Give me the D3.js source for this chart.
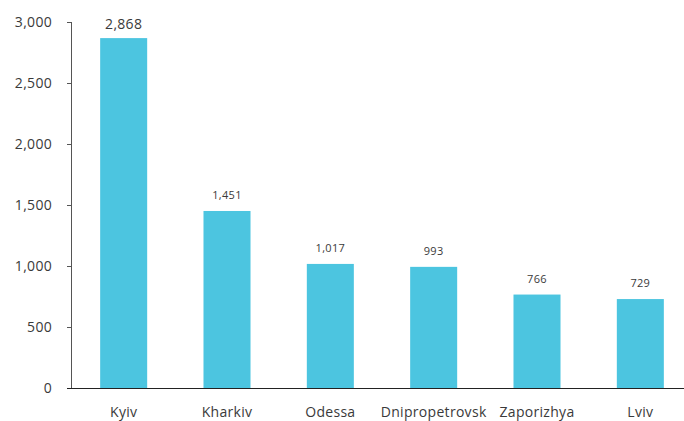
<!DOCTYPE html>
<html>
<head>
<meta charset="utf-8">
<script src="https://cdn.jsdelivr.net/npm/d3@7"></script>
<style>
  html, body { margin: 0; padding: 0; background: #fff; }
  svg { display: block; }
  svg text { font-family: "Open Sans", sans-serif; letter-spacing: 0.3px; }
</style>
</head>
<body>
<svg id="chart" width="684" height="421"></svg>
<script>
// Regions and their counts
const regions = ["Kyiv", "Kharkiv", "Odessa", "Dnipropetrovsk", "Zaporizhya", "Lviv"];
const counts = [2868, 1451, 1017, 993, 766, 729];
const yTicks = [0, 500, 1000, 1500, 2000, 2500, 3000];

const svg = d3.select("#chart");
const plotLeft = 72, plotRight = 692, plotTop = 22, plotBottom = 388;

const x = d3.scaleBand().domain(regions).range([plotLeft, plotRight]).paddingInner(0.545).paddingOuter(0.2725);
const y = d3.scaleLinear().domain([0, 3000]).range([plotBottom, plotTop]);

const fmt = d3.format(",");
const textColor = "#3a3a3a";

// y axis
const yAxis = svg.append("g")
  .attr("transform", `translate(${plotLeft},0)`)
  .call(d3.axisLeft(y).tickValues(yTicks).tickFormat(fmt).tickSize(5).tickPadding(15));
yAxis.select(".domain").attr("stroke", "#555").attr("d", `M-0.5,${y(3000)}V${plotBottom}`);
yAxis.selectAll(".tick line").attr("stroke", "#555");
yAxis.selectAll(".tick text").attr("fill", textColor).style("font-size", "14px");

// bars
svg.append("g").selectAll("rect")
  .data(regions)
  .join("rect")
  .attr("x", d => x(d))
  .attr("width", x.bandwidth())
  .attr("y", (d, i) => y(counts[i]))
  .attr("height", (d, i) => plotBottom - y(counts[i]))
  .attr("fill", "#4cc5e0");

// value labels (the tallest bar's label is set larger)
svg.append("g").selectAll("text")
  .data(regions)
  .join("text")
  .attr("x", d => x(d) + x.bandwidth() / 2)
  .attr("y", (d, i) => y(counts[i]) - (i === 0 ? 9 : 12))
  .attr("text-anchor", "middle")
  .attr("fill", textColor)
  .style("font-size", (d, i) => i === 0 ? "14px" : "11px")
  .text((d, i) => fmt(counts[i]));

// x axis baseline and category labels
const xAxis = svg.append("g")
  .attr("transform", `translate(0,${plotBottom})`)
  .call(d3.axisBottom(x).tickSize(0).tickPadding(19));
xAxis.select(".domain").attr("stroke", "#222").attr("d", `M67,0.5H684`);
xAxis.selectAll(".tick text").attr("fill", textColor).style("font-size", "14px");
</script>
</body>
</html>
